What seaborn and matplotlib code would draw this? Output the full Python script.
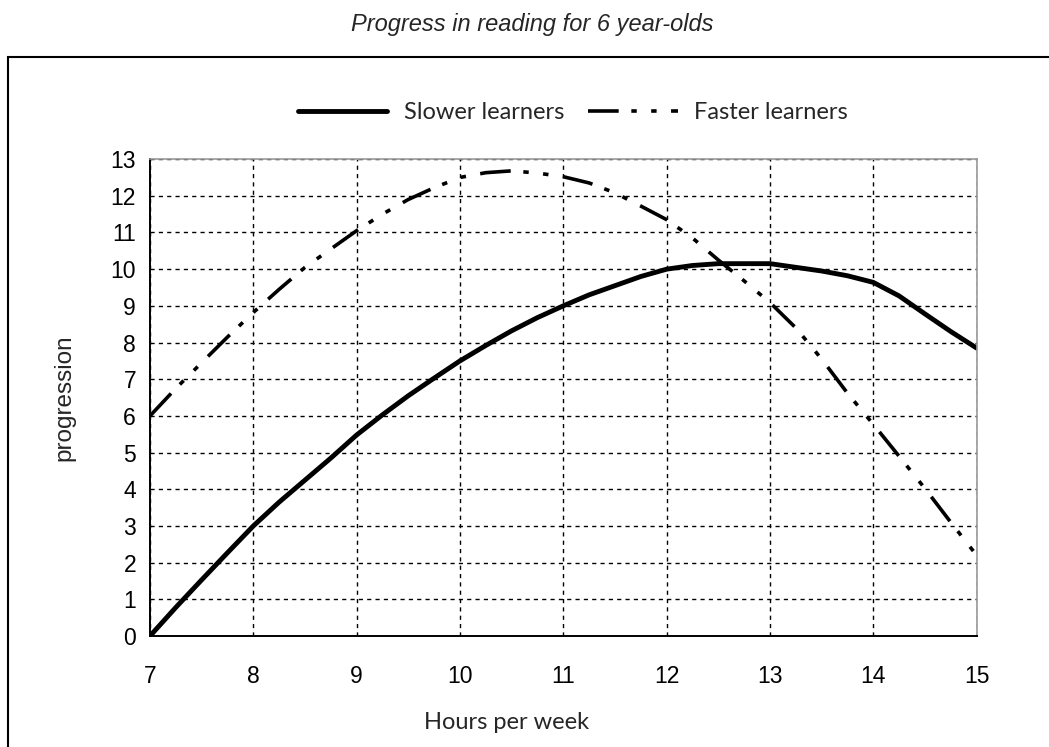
"""Progress in reading for 6 year-olds: slower vs faster learners."""

import matplotlib
matplotlib.use("Agg")
import matplotlib.pyplot as plt
import matplotlib.patches as mpatches
from matplotlib.lines import Line2D
import pandas as pd
import seaborn as sns

# data
hours = [7, 7.25, 7.5, 7.75, 8, 8.25, 8.5, 8.75, 9, 9.25, 9.5, 9.75, 10, 10.25, 10.5, 10.75,
         11, 11.25, 11.5, 11.75, 12, 12.25, 12.5, 12.75, 13, 13.25, 13.5, 13.75, 14, 14.25,
         14.5, 14.75, 15]
slower = [0, 0.78, 1.53, 2.27, 3.0, 3.65, 4.25, 4.85, 5.48, 6.03, 6.55, 7.03, 7.5, 7.92, 8.32,
          8.68, 9.0, 9.3, 9.55, 9.8, 10.0, 10.1, 10.15, 10.15, 10.15, 10.05, 9.95, 9.82, 9.64,
          9.27, 8.78, 8.3, 7.85]
faster = [6.0, 6.75, 7.45, 8.15, 8.82, 9.45, 10.05, 10.55, 11.05, 11.5, 11.9, 12.22, 12.5,
          12.63, 12.68, 12.62, 12.52, 12.35, 12.08, 11.72, 11.35, 10.85, 10.25, 9.68, 9.09,
          8.4, 7.55, 6.62, 5.77, 4.9, 4.02, 3.1, 2.2]

x_ticks = list(range(7, 16))
y_ticks = list(range(0, 14))

sns.set_theme(style="white")
plt.rcParams["font.family"] = ["Liberation Sans", "DejaVu Sans"]

df = pd.DataFrame({"hours": hours, "slower": slower, "faster": faster})

fig = plt.figure(figsize=(10.49, 7.47), dpi=100)
ax = fig.add_axes([0.143, 0.1486, 0.788, 0.6384])

fast_dash = (8.5, 3.5, 1.5, 4, 1.5, 4)

sns.lineplot(data=df, x="hours", y="faster", ax=ax, color="black", linewidth=2.6)
ax.lines[-1].set_dashes(fast_dash)
sns.lineplot(data=df, x="hours", y="slower", ax=ax, color="black", linewidth=3.5)

ax.set_xlim(7, 15)
ax.set_ylim(0, 13)
ax.set_xticks(x_ticks)
ax.set_yticks(y_ticks)
ax.tick_params(axis="both", labelsize=16.5, colors="black", width=1.2)
ax.tick_params(axis="y", direction="inout", length=12, pad=4)
ax.tick_params(axis="x", direction="out", length=7, pad=14)

ax.grid(True, color="black", linestyle=(0, (3, 3)), linewidth=1.0)
for side in ("left", "bottom"):
    ax.spines[side].set_color("black")
    ax.spines[side].set_linewidth(1.4)
for side in ("top", "right"):
    ax.spines[side].set_color("#999999")
    ax.spines[side].set_linewidth(1.2)

ax.set_xlabel("Hours per week", fontsize=17, family=["Lato", "DejaVu Sans"])
ax.xaxis.set_label_coords((507 - 150) / 827, -0.16)
ax.set_ylabel("progression", fontsize=17.5)
ax.yaxis.set_label_coords(-0.09, 0.5)

fig.text(0.507, 0.967, "Progress in reading for 6 year-olds", ha="center", va="center",
         fontsize=17, style="italic")

# outer frame around the chart
fig.patches.append(mpatches.Rectangle((0.0076, -0.05), 1.1, 0.974, transform=fig.transFigure,
                                      fill=False, edgecolor="black", linewidth=1.5))

handles = [
    Line2D([], [], color="black", linewidth=3.5),
    Line2D([], [], color="black", linewidth=2.6, dashes=fast_dash),
]
fig.legend(handles, ["Slower learners", "Faster learners"], loc="center",
           bbox_to_anchor=(0.546, 0.849), ncol=2, frameon=False, handlelength=3.8,
           columnspacing=1.0, handletextpad=0.7,
           prop={"family": ["Lato", "DejaVu Sans"], "size": 17})

fig.savefig("out.png", dpi=100)
